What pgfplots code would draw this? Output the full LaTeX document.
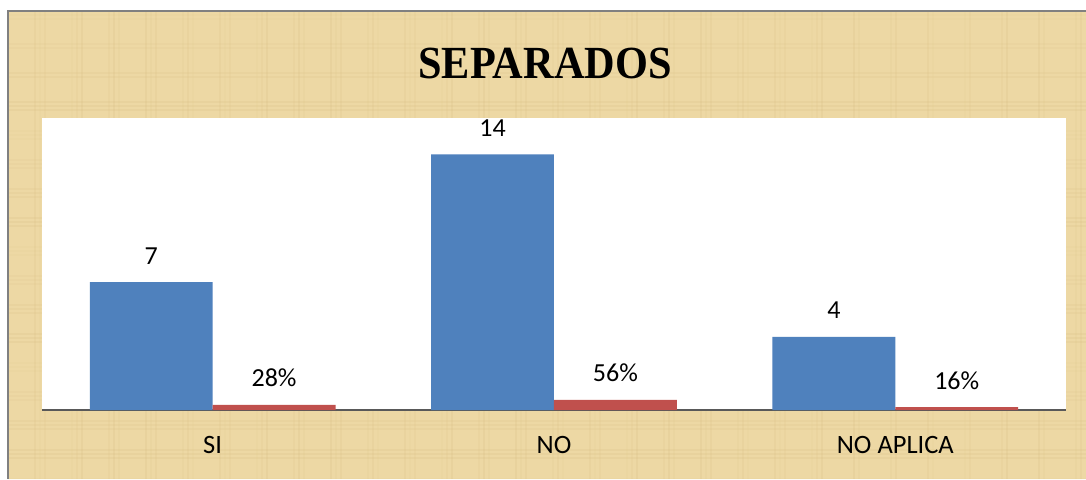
\documentclass[border=0pt]{standalone}
\usepackage{pgfplots}
\pgfplotsset{compat=1.18}
\usepackage{fontspec}
\setmainfont{Carlito}
\newfontfamily\titlefont{Liberation Serif}
\definecolor{parch}{RGB}{237,216,164}
\definecolor{parchdark}{RGB}{212,184,122}
\definecolor{barblue}{RGB}{79,129,189}
\definecolor{barred}{RGB}{192,80,77}
\begin{document}
\begin{tikzpicture}[x=1pt,y=1pt]
\useasboundingbox (0,0) rectangle (1086,479);
\fill[white] (0,0) rectangle (1086,479);
\fill[parch] (8,0) rectangle (1086,468);
\foreach \i in {0,...,80} {
  \pgfmathsetmacro{\xx}{8+mod(\i*37,1078)}
  \pgfmathsetmacro{\op}{0.06+0.10*mod(\i*7,5)/4}
  \draw[parchdark, opacity=\op, line width=1.2] (\xx,0) -- (\xx,468);
}
\foreach \i in {0,...,45} {
  \pgfmathsetmacro{\yy}{mod(\i*29,468)}
  \pgfmathsetmacro{\op}{0.06+0.10*mod(\i*3,4)/3}
  \draw[parchdark, opacity=\op, line width=1.2] (8,\yy) -- (1086,\yy);
}
\draw[gray, line width=1.5] (8,0) -- (8,468) -- (1086,468);
\node[anchor=base, inner sep=0] at (545,400) {\scalebox{0.92}[1]{\titlefont\bfseries\fontsize{46}{52}\selectfont SEPARADOS}};
\begin{axis}[
  at={(42pt,69pt)}, anchor=south west,
  scale only axis, width=1024pt, height=292pt,
  xmin=-0.5, xmax=2.5, ymin=0, ymax=16,
  ybar, bar width=0.36,
  axis y line=none, axis x line*=bottom,
  x axis line style={gray!70!black, -, line width=1.2pt},
  axis background/.style={fill=white},
  xtick={0,1,2}, xticklabels={SI,NO,NO APLICA},
  xtick style={draw=none}, major tick length=0pt,
  xticklabel style={anchor=base, yshift=-43pt, font=\fontsize{26.5}{31}\selectfont},
  clip=false,
  nodes near coords,
  point meta=explicit symbolic,
  every node near coord/.append style={font=\fontsize{26}{31}\selectfont, anchor=base, yshift=18pt},
]
\addplot[bar shift=-0.18, fill=barblue, draw=none]
  coordinates {(0,7) [7] (1,14) [14] (2,4) [4]};
\addplot[bar shift=0.18, fill=barred, draw=none]
  coordinates {(0,0.28) [28\%] (1,0.56) [56\%] (2,0.16) [16\%]};
\end{axis}
\end{tikzpicture}
\end{document}
